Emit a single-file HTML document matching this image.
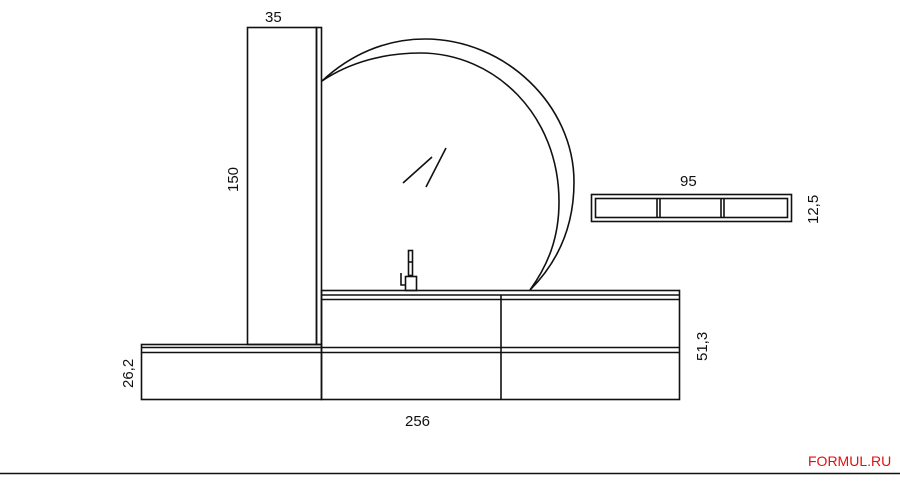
<!DOCTYPE html>
<html><head><meta charset="utf-8"><style>
html,body{margin:0;padding:0;background:#fff;width:900px;height:481px;overflow:hidden}
svg{display:block}
text{font-family:"Liberation Sans",sans-serif;font-size:15px;fill:#111}
</style></head><body>
<svg width="900" height="481" viewBox="0 0 900 481" xmlns="http://www.w3.org/2000/svg">
<g fill="none" stroke="#111" stroke-width="1.6">
<rect x="247.5" y="27.5" width="69" height="317"/>
<rect x="316.5" y="27.5" width="5" height="317"/>
<path d="M322,81 C350,55 385,39 425,39 C505,39 574,105 574,182 C574,230 555,265 530,290"/>
<path d="M322,81 C350,62 385,53 420,53 C495,53 559,115 559,202 C559,238 548,265 530,290"/>
<line x1="403" y1="183" x2="432" y2="157"/>
<line x1="426" y1="187" x2="446" y2="148"/>
<rect x="408.5" y="250.5" width="4" height="25"/>
<line x1="408.5" y1="262" x2="412.5" y2="262"/>
<rect x="405.5" y="276.5" width="11" height="14"/>
<path d="M401,273 V285 H405"/>
<rect x="321.5" y="290.5" width="358" height="109"/>
<line x1="321.5" y1="295" x2="679.5" y2="295"/>
<line x1="321.5" y1="299.5" x2="679.5" y2="299.5"/>
<line x1="321.5" y1="347.5" x2="679.5" y2="347.5"/>
<line x1="321.5" y1="352.5" x2="679.5" y2="352.5"/>
<line x1="501" y1="295" x2="501" y2="399.5"/>
<rect x="141.5" y="344.5" width="180" height="55"/>
<line x1="141.5" y1="347.5" x2="321.5" y2="347.5"/>
<line x1="141.5" y1="352.5" x2="321.5" y2="352.5"/>
<rect x="591.5" y="194.5" width="200" height="27"/>
<rect x="595.5" y="198.5" width="192" height="19"/>
<line x1="657" y1="198.5" x2="657" y2="217.5"/>
<line x1="660" y1="198.5" x2="660" y2="217.5"/>
<line x1="721" y1="198.5" x2="721" y2="217.5"/>
<line x1="724" y1="198.5" x2="724" y2="217.5"/>
<line x1="0" y1="473.5" x2="900" y2="473.5"/>
</g>
<text x="265" y="22">35</text>
<text x="680" y="186">95</text>
<text x="405" y="426">256</text>
<text transform="translate(238,192) rotate(-90)">150</text>
<text transform="translate(818,224) rotate(-90)">12,5</text>
<text transform="translate(707,361) rotate(-90)">51,3</text>
<text transform="translate(133,388) rotate(-90)">26,2</text>
<text x="808" y="466" style="fill:#e01010;font-size:14px">FORMUL.RU</text>
</svg>
</body></html>
